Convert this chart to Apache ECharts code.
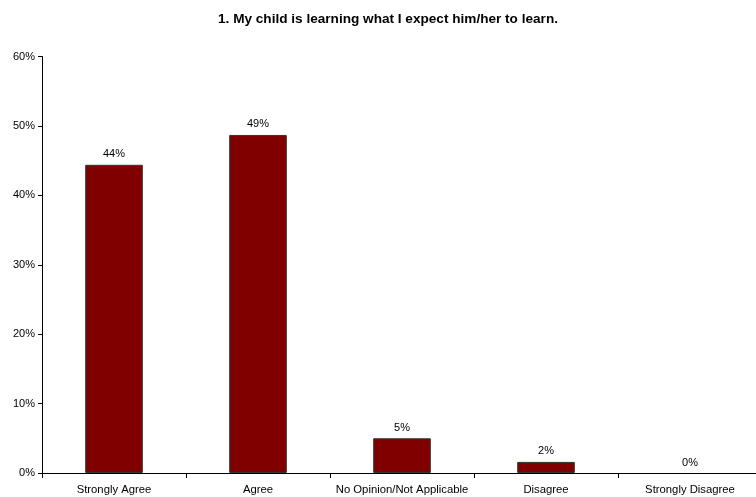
<!DOCTYPE html>
<html>
<head>
<meta charset="utf-8">
<script src="https://cdn.jsdelivr.net/npm/echarts@6/dist/echarts.min.js"></script>
<style>
  html, body { margin: 0; padding: 0; background: #fff; overflow: hidden; }
  #chart { width: 762px; height: 497px; }
</style>
</head>
<body>
<div id="chart"></div>
<script>
// Survey responses for question 1 (percent of respondents)
const categories = ['Strongly Agree', 'Agree', 'No Opinion/Not Applicable', 'Disagree', 'Strongly Disagree'];
const percentages = [44.4, 48.7, 5.0, 1.6, 0];
const yTicks = { min: 0, max: 60, step: 10 };
const titleText = '1. My child is learning what I expect him/her to learn.';

const font = 'Liberation Sans, Arial, Helvetica, sans-serif';
const chart = echarts.init(document.getElementById('chart'));

// Empty bars get no outline so nothing is drawn on the axis for them
const barData = percentages.map(v => ({
  value: v,
  itemStyle: v === 0 ? { borderWidth: 0 } : undefined
}));

chart.setOption({
  animation: false,
  backgroundColor: '#ffffff',
  title: {
    text: titleText,
    left: 383,
    textAlign: 'center',
    top: 7,
    textStyle: { fontFamily: font, fontSize: 13.6, fontWeight: 'bold', color: '#000' }
  },
  grid: { left: 42, top: 56.5, width: 720, height: 416.5 },
  xAxis: {
    type: 'category',
    data: categories,
    boundaryGap: true,
    axisLine: { lineStyle: { color: '#000', width: 1 } },
    axisTick: { show: true, alignWithLabel: false, length: 5, lineStyle: { color: '#000' } },
    axisLabel: { fontFamily: font, fontSize: 11.3, color: '#000', margin: 11, interval: 0 }
  },
  yAxis: {
    type: 'value',
    min: yTicks.min,
    max: yTicks.max,
    interval: yTicks.step,
    axisLine: { show: true, lineStyle: { color: '#000', width: 1 } },
    axisTick: { show: true, length: 4, lineStyle: { color: '#000' } },
    splitLine: { show: false },
    axisLabel: { fontFamily: font, fontSize: 11, color: '#000', margin: 7, formatter: '{value}%' }
  },
  series: [{
    type: 'bar',
    data: barData,
    barWidth: '40%',
    itemStyle: { color: '#800000', borderColor: '#333333', borderWidth: 1 },
    label: {
      show: true,
      position: 'top',
      distance: 5,
      fontFamily: font,
      fontSize: 11,
      color: '#000',
      formatter: p => Math.round(p.value) + '%'
    }
  }]
});
</script>
</body>
</html>
